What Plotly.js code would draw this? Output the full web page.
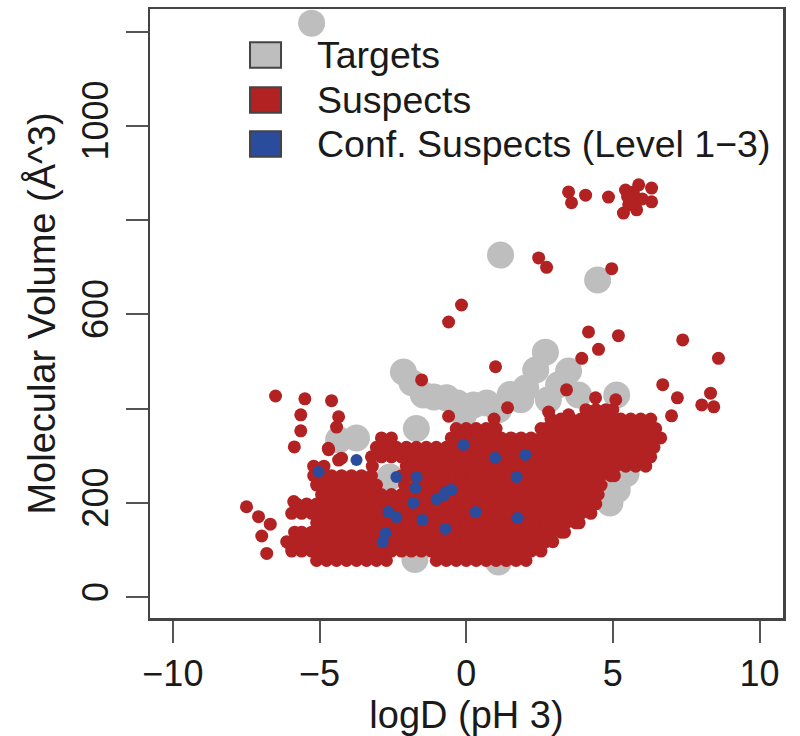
<!DOCTYPE html>
<html><head><meta charset="utf-8">
<script src="https://cdn.plot.ly/plotly-3.0.1.min.js"></script>
<style>html,body{margin:0;padding:0;background:#fff}#chart{width:800px;height:736px}</style>
</head><body><div id="chart"></div>
<script>
// ---- Data ----
const targetsX = [-5.27, 1.17, 4.48, 2.7, 2.37, 2.03, 1.86, 3.49, 3.15, 3.83, 2.8, -2.14, -1.85, -1.46, -1.1, -0.67, -0.3, 0.25, 0.7, 1.1, 1.5, -0.09, -1.7, 5.13, -4.35, -3.74, -2.6, 5.45, 5.15, 4.9, -1.75, 1.1];
const targetsY = [1218, 726, 673, 520, 482, 444, 419, 480, 451, 429, 419, 478, 455, 429, 425, 423, 412, 408, 412, 398, 430, 387, 358, 429, 334, 338, 255, 262, 228, 200, 80, 75];

// scattered suspects (outliers around the main cloud)
const suspectsOutX = [3.49, 3.59, 4.07, 4.85, 5.43, 5.64, 5.88, 5.81, 5.36, 6.32, 6.32, 5.54, 5.7, 5.5, 6.0, 5.75,
  4.96, 2.47, 2.74, -0.16, -0.6, 4.17, 5.19, 4.51, 3.94, 1.0, 7.38, 8.6,
  6.7, 7.2, 8.33, 8.03, 8.44, 7.0, -1.52, -0.6, 1.41, 2.81, 3.49, 3.42, 5.1, 4.41,
  -6.5, -5.5, -4.59, -5.64, -4.35, -5.64, -4.42, -5.86, -4.69, -4.35, -4.25, -4.7,
  -7.49, -7.08, -6.68, -6.97, -6.8, -5.88, -5.54, -6.05];
const suspectsOutY = [860, 837, 853, 849, 864, 843, 875, 822, 815, 868, 839, 833, 860, 850, 845, 830,
  697, 720, 700, 620, 584, 563, 555, 526, 507, 489, 546, 507,
  451, 423, 433, 408, 404, 385, 461, 384, 402, 393, 387, 440, 419, 423,
  427, 421, 417, 387, 383, 353, 361, 319, 313, 291, 295, 316,
  192, 171, 155, 130, 93, 203, 190, 115];

// dense suspect cloud, read row by row (molecular volume level -> logD values)
const suspectRowY = [78, 98, 118, 138, 158, 178, 198, 218, 238, 258, 278, 298, 318, 338, 358, 378, 398];
const suspectRowX = [
  [-5.1,-4.76,-4.42,-4.08,-3.74,-3.4,-3.06,-2.72,-1.02,-0.68,-0.34,0,0.34,0.68,1.02,1.36,1.7,2.04],
  [-5.95,-5.61,-5.27,-4.93,-4.59,-4.25,-3.91,-3.57,-3.23,-2.89,-2.55,-2.21,-1.87,-1.53,-1.19,-0.85,-0.51,-0.17,0.17,0.51,0.85,1.19,1.53,1.87,2.21,2.55],
  [-6.12,-5.78,-5.44,-5.1,-4.76,-4.42,-4.08,-3.74,-3.4,-3.06,-2.72,-2.38,-2.04,-1.7,-1.36,-1.02,-0.68,-0.34,0,0.34,0.68,1.02,1.36,1.7,2.04,2.38,2.72,2.95],
  [-5.85,-5.61,-5.27,-4.93,-4.59,-4.25,-3.91,-3.57,-3.23,-2.89,-2.55,-2.21,-1.87,-1.53,-1.19,-0.85,-0.51,-0.17,0.17,0.51,0.85,1.19,1.53,1.87,2.21,2.55,2.89,3.23,3.35],
  [-5.1,-4.76,-4.42,-4.08,-3.74,-3.4,-3.06,-2.72,-2.38,-2.04,-1.7,-1.36,-1.02,-0.68,-0.34,0,0.34,0.68,1.02,1.36,1.7,2.04,2.38,2.72,3.06,3.4,3.74,3.85],
  [-5.95,-5.61,-5.27,-4.93,-4.59,-4.25,-3.91,-3.57,-3.23,-2.89,-2.55,-2.21,-1.87,-1.53,-1.19,-0.85,-0.51,-0.17,0.17,0.51,0.85,1.19,1.53,1.87,2.21,2.55,2.89,3.23,3.57,3.91,4.25],
  [-5.78,-5.44,-5.1,-4.76,-4.42,-4.08,-3.74,-3.4,-3.06,-2.72,-2.38,-2.04,-1.7,-1.36,-1.02,-0.68,-0.34,0,0.34,0.68,1.02,1.36,1.7,2.04,2.38,2.72,3.06,3.4,3.74,4.08,4.42],
  [-4.93,-4.59,-4.25,-3.91,-3.57,-3.23,-2.89,-2.55,-2.21,-1.87,-1.53,-1.19,-0.85,-0.51,-0.17,0.17,0.51,0.85,1.19,1.53,1.87,2.21,2.55,2.89,3.23,3.57,3.91,4.25,4.5],
  [-5.1,-4.76,-4.42,-4.08,-3.74,-3.4,-3.06,-2.1,-1.7,-1.36,-1.02,-0.68,-0.34,0,0.34,0.68,1.02,1.36,1.7,2.04,2.38,2.72,3.06,3.4,3.74,4.08,4.42,4.6],
  [-5.2,-4.93,-4.59,-4.25,-3.91,-3.57,-3.23,-2.21,-1.87,-1.53,-1.19,-0.85,-0.51,-0.17,0.17,0.51,0.85,1.19,1.53,1.87,2.21,2.55,2.89,3.23,3.57,3.91,4.25,4.59,4.93,5.05],
  [-5.2,-4.85,-3.2,-2.04,-1.7,-1.36,-1.02,-0.68,-0.34,0,0.34,0.68,1.02,1.36,1.7,2.04,2.38,2.72,3.06,3.4,3.74,4.08,4.42,4.76,5.1,5.44,5.78,6.12],
  [-3.23,-2.89,-2.55,-2.21,-1.87,-1.53,-1.19,-0.85,-0.51,-0.17,0.17,0.51,0.85,1.19,1.53,1.87,2.21,2.55,2.89,3.23,3.57,3.91,4.25,4.59,4.93,5.27,5.61,5.95,6.29],
  [-3.06,-2.72,-2.38,-2.04,-1.7,-1.36,-1.02,-0.68,-0.34,0,0.34,0.68,1.02,1.36,1.7,2.04,2.38,2.72,3.06,3.4,3.74,4.08,4.42,4.76,5.1,5.44,5.78,6.12,6.4],
  [-2.89,-2.55,-0.51,-0.17,0.17,0.51,0.85,1.19,1.53,1.87,2.21,2.55,2.89,3.23,3.57,3.91,4.25,4.59,4.93,5.27,5.61,5.95,6.29,6.63],
  [-0.34,0,0.34,0.68,1.02,2.55,2.72,3.06,3.4,3.74,4.08,4.42,4.76,5.1,5.44,5.78,6.12,6.46],
  [0.95,2.89,3.23,3.57,3.91,4.25,4.59,4.93,5.27,5.61,5.95,6.29],
  [4.08,4.42,4.76,5.0]
];

const confX = [-5.03,-3.74,-2.38,-1.69,-1.73,-1.8,-0.71,-1.01,-0.5,-0.75,-2.65,-2.38,-1.49,0.32,1.75,-0.71,-2.75,-2.85,-0.09,0.99,2.02,1.72];
const confY = [266,291,255,255,232,200,223,208,228,217,181,170,164,181,168,145,136,117,323,296,302,255];

const legendLabels = ['Targets', 'Suspects', 'Conf. Suspects (Level 1\u22123)'];
const legendColors = ['#BEBEBE', '#B22222', '#2B4C9C'];

const xTickVals = [-10, -5, 0, 5, 10];
const xTickText = ['\u221210', '\u22125', '0', '5', '10'];
const yTickVals = [0, 200, 400, 600, 800, 1000, 1200];
const yTickText = ['0', '200', '', '600', '', '1000', ''];

// ---- Build traces ----
const susX = suspectsOutX.slice();
const susY = suspectsOutY.slice();
suspectRowY.forEach((yv, i) => {
  suspectRowX[i].forEach(xv => { susX.push(xv); susY.push(yv); });
});

const FONT = 'Liberation Sans, Arial, Helvetica, sans-serif';
const INK = '#1a1a1a';
const traces = [
  {type: 'scatter', mode: 'markers', x: targetsX, y: targetsY, name: legendLabels[0],
   marker: {color: legendColors[0], size: 27, line: {width: 0}}, hoverinfo: 'x+y'},
  {type: 'scatter', mode: 'markers', x: susX, y: susY, name: legendLabels[1],
   marker: {color: legendColors[1], size: 13, line: {width: 0}}, hoverinfo: 'x+y'},
  {type: 'scatter', mode: 'markers', x: confX, y: confY, name: legendLabels[2],
   marker: {color: legendColors[2], size: 12, line: {width: 0}}, hoverinfo: 'x+y'}
];

// custom legend (R-style, large squares, no box)
const legRowsY = [0.9245, 0.8506, 0.7783];
const shapes = [];
const annotations = [];
legendLabels.forEach((lab, i) => {
  shapes.push({type: 'rect', xref: 'paper', yref: 'paper',
    x0: 0.158, x1: 0.207, y0: legRowsY[i] - 0.021, y1: legRowsY[i] + 0.021,
    fillcolor: legendColors[i], line: {color: '#444', width: 2}});
  annotations.push({xref: 'paper', yref: 'paper', x: 0.2607, y: legRowsY[i],
    xanchor: 'left', yanchor: 'middle', showarrow: false, text: lab,
    font: {family: FONT, size: 37.5, color: INK}});
});

const layout = {
  width: 800, height: 736,
  margin: {l: 150, r: 17, t: 9, b: 118},
  paper_bgcolor: '#ffffff', plot_bgcolor: '#ffffff',
  showlegend: false,
  font: {family: FONT, size: 36, color: INK},
  xaxis: {
    range: [-10.78, 10.8], tickvals: xTickVals, ticktext: xTickText,
    showgrid: false, zeroline: false, showline: true, mirror: true,
    linecolor: '#444', linewidth: 2.5,
    ticks: 'outside', ticklen: 22, tickwidth: 2, tickcolor: '#555',
    tickfont: {family: FONT, size: 36, color: INK},
    title: {text: 'logD (pH 3)', font: {family: FONT, size: 38, color: INK}, standoff: 15},
    automargin: false
  },
  yaxis: {
    range: [-44, 1248], tickvals: yTickVals, ticktext: yTickText, tickangle: -90,
    showgrid: false, zeroline: false, showline: true, mirror: true,
    linecolor: '#444', linewidth: 2.5,
    ticks: 'outside', ticklen: 22, tickwidth: 2, tickcolor: '#555',
    ticklabelstandoff: 3,
    tickfont: {family: FONT, size: 36, color: INK},
    title: {text: 'Molecular Volume (\u00C5^3)', font: {family: FONT, size: 38, color: INK}, standoff: 8},
    automargin: false
  },
  shapes: shapes,
  annotations: annotations
};

Plotly.newPlot('chart', traces, layout, {displayModeBar: false, staticPlot: true});
</script></body></html>
